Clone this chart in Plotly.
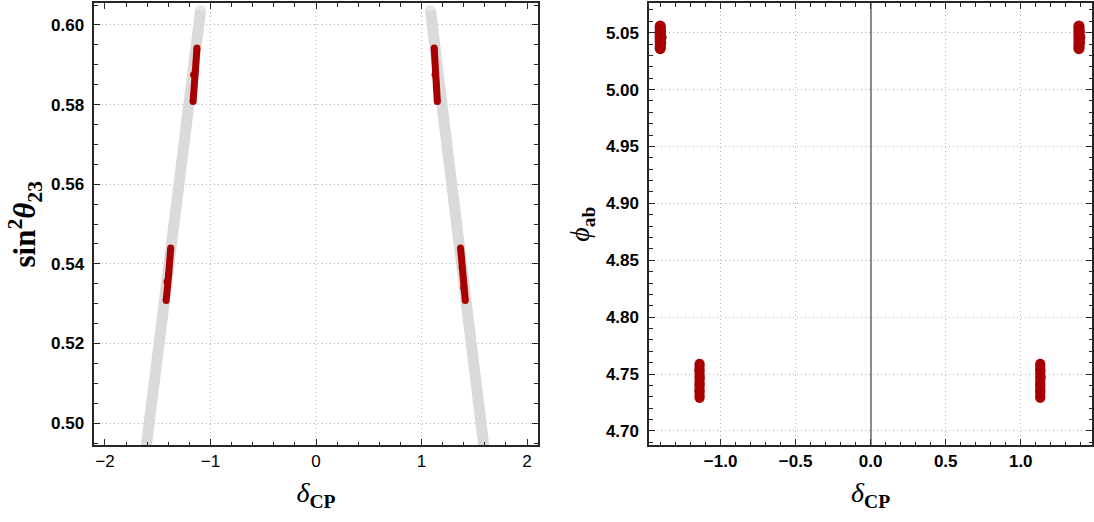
import plotly.graph_objects as go

# ---- left panel: allowed band (gray) and best-fit segments (red) in (delta_CP, sin^2 theta23)
band_left_delta = [-1.628, -1.094]
band_left_s23 = [0.490, 0.6036]
band_right_delta = [1.610, 1.085]
band_right_s23 = [0.490, 0.6036]

red_ul_delta = [-1.165, -1.160, -1.143, -1.128]
red_ul_s23 = [0.5808, 0.5875, 0.5885, 0.5942]
red_ll_delta = [-1.420, -1.412, -1.396, -1.377]
red_ll_s23 = [0.5308, 0.5355, 0.5375, 0.5440]
red_ur_delta = [1.120, 1.128, 1.140, 1.150]
red_ur_s23 = [0.5942, 0.5875, 0.5845, 0.5808]
red_lr_delta = [1.370, 1.385, 1.400, 1.415]
red_lr_s23 = [0.5440, 0.5390, 0.5340, 0.5308]

# ---- right panel: clusters in (delta_CP, phi_ab)
cl_tl_delta = [-1.402, -1.400, -1.396, -1.398, -1.402]
cl_tl_phi = [5.056, 5.051, 5.046, 5.041, 5.036]
cl_tr_delta = [1.388, 1.390, 1.394, 1.392, 1.388]
cl_tr_phi = [5.056, 5.051, 5.046, 5.041, 5.036]
cl_bl_delta = [-1.140, -1.141, -1.139, -1.140, -1.141, -1.140]
cl_bl_phi = [4.759, 4.753, 4.747, 4.741, 4.735, 4.729]
cl_br_delta = [1.130, 1.131, 1.133, 1.130, 1.131, 1.130]
cl_br_phi = [4.759, 4.753, 4.747, 4.741, 4.735, 4.729]

GRAY = "#DADADA"
RED = "#A80000"
FRAME = "#262626"
GRID = "#B4B4B4"
DOTS = "1px,3px"

fig = go.Figure()

for xs, ys in [(band_left_delta, band_left_s23), (band_right_delta, band_right_s23)]:
    fig.add_trace(go.Scatter(
        x=xs, y=ys, mode="lines+markers",
        line=dict(color=GRAY, width=11),
        marker=dict(color=GRAY, size=[0, 11], line=dict(width=0)),
        xaxis="x", yaxis="y", showlegend=False, hoverinfo="skip"))

for xs, ys in [(red_ul_delta, red_ul_s23), (red_ll_delta, red_ll_s23),
               (red_ur_delta, red_ur_s23), (red_lr_delta, red_lr_s23)]:
    fig.add_trace(go.Scatter(
        x=xs, y=ys, mode="lines+markers",
        line=dict(color=RED, width=7),
        marker=dict(color=RED, size=7, line=dict(width=0)),
        xaxis="x", yaxis="y", showlegend=False))

for (xs, ys), w in [((cl_tl_delta, cl_tl_phi), 11), ((cl_tr_delta, cl_tr_phi), 11),
                    ((cl_bl_delta, cl_bl_phi), 10), ((cl_br_delta, cl_br_phi), 10)]:
    fig.add_trace(go.Scatter(
        x=xs, y=ys, mode="lines+markers",
        line=dict(color=RED, width=w),
        marker=dict(color=RED, size=w, line=dict(width=0)),
        xaxis="x2", yaxis="y2", showlegend=False))

tickfont = dict(family="Liberation Sans", size=17, color="black")
titlefont = dict(family="Liberation Serif", size=28, color="black")

def frame_axis(**kw):
    base = dict(
        showline=True, linecolor=FRAME, linewidth=1.8, mirror="allticks",
        ticks="inside", ticklen=6, tickwidth=1.3, tickcolor=FRAME,
        tickfont=tickfont, tickprefix="<b>", ticksuffix="</b>",
        showgrid=True, gridcolor=GRID, griddash=DOTS,
        gridwidth=1, zeroline=False,
    )
    base.update(kw)
    return base

fig.update_layout(
    width=1094, height=522,
    margin=dict(l=0, r=0, t=0, b=0),
    paper_bgcolor="white", plot_bgcolor="white",
    xaxis=frame_axis(
        domain=[0.0863, 0.4914], range=[-2.1, 2.1], anchor="y",
        tickmode="array", tickvals=[-2, -1, 0, 1, 2],
        ticktext=["\u22122", "\u22121", "0", "1", "2"],
        showgrid=False,
        minor=dict(ticks="inside", ticklen=3.5, tickcolor=FRAME, dtick=0.2, tick0=0, showgrid=False),
        title=dict(text="<i>δ</i><sub><b>CP</b></sub>", font=titlefont, standoff=12),
    ),
    yaxis=frame_axis(
        domain=[0.1475, 0.9933], range=[0.4945, 0.6054], anchor="x",
        dtick=0.02, tick0=0.5, tickformat=".2f", ticklabelstandoff=5,
        minor=dict(ticks="inside", ticklen=3.5, tickcolor=FRAME, dtick=0.005, tick0=0.5, showgrid=False),
        title=dict(text="<b>sin</b><sup><b>2</b></sup><b><i>θ</i></b><sub><b>23</b></sub>",
                   font=dict(family="Liberation Serif", size=31, color="black"), standoff=6),
    ),
    xaxis2=frame_axis(
        domain=[0.5935, 0.9982], range=[-1.475, 1.475], anchor="y2",
        dtick=0.5, tick0=0, tickformat=".1f",
        zeroline=True, zerolinecolor="#8C8C8C", zerolinewidth=1.5,
        minor=dict(ticks="inside", ticklen=3.5, tickcolor=FRAME, dtick=0.1, tick0=0, showgrid=False),
        title=dict(text="<i>δ</i><sub><b>CP</b></sub>", font=titlefont, standoff=12),
    ),
    yaxis2=frame_axis(
        domain=[0.1475, 0.9933], range=[4.6876, 5.0757], anchor="x2",
        dtick=0.05, tick0=4.7, tickformat=".2f", ticklabelstandoff=5,
        minor=dict(ticks="inside", ticklen=3.5, tickcolor=FRAME, dtick=0.01, tick0=4.7, showgrid=False),
        title=dict(text="<i>ϕ</i><sub><b>ab</b></sub>",
                   font=dict(family="Liberation Serif", size=28, color="black"), standoff=8),
    ),
)

# dotted vertical grid lines of the left panel at the inner integer ticks
for xv in [-1, 0, 1]:
    fig.add_shape(type="line", xref="x", yref="y domain", x0=xv, x1=xv, y0=0, y1=1,
                  line=dict(color=GRID, width=1, dash=DOTS), layer="below")

fig.write_html("out.html")
